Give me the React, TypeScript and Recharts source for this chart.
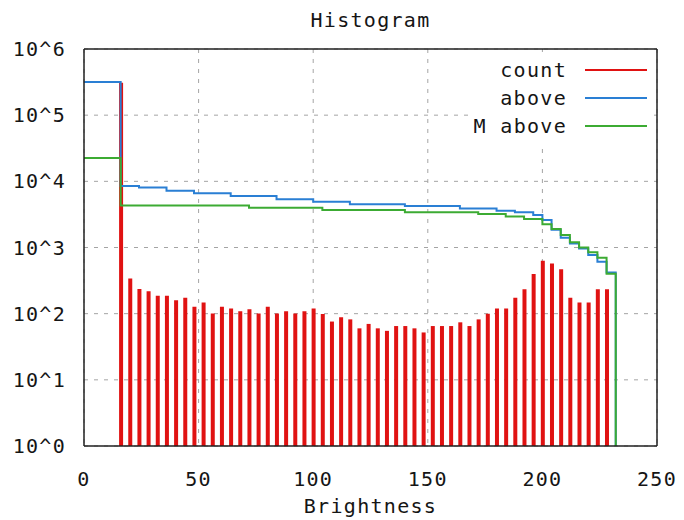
import { Bar, CartesianGrid, ComposedChart, Line, XAxis, YAxis } from "recharts";

// brightness bins (left edge of each 4-wide bin) and pixel counts
const bins = [
  16, 20, 24, 28, 32, 36, 40, 44, 48, 52, 56, 60, 64, 68, 72, 76, 80, 84,
  88, 92, 96, 100, 104, 108, 112, 116, 120, 124, 128, 132, 136, 140, 144, 148,
  152, 156, 160, 164, 168, 172, 176, 180, 184, 188, 192, 196, 200, 204, 208,
  212, 216, 220, 224, 228,
];
const counts = [
  310000, 340, 236, 219, 186, 186, 160, 174, 127, 148, 101, 127, 120, 109, 117,
  101, 127, 101, 109, 101, 109, 120, 99, 76, 88, 82, 60, 70, 60, 55, 65, 65,
  60, 52, 65, 65, 65, 74, 65, 82, 100, 120, 120, 174, 233, 396, 630, 575, 468,
  174, 148, 148, 233, 233,
];

// "above" step curve
const aboveX = [
  0, 16, 24, 36, 48, 64, 84, 100, 116, 140, 164, 180, 188, 196, 200, 204, 208,
  212, 216, 220, 224, 228, 232,
];
const aboveY = [
  316000, 8500, 8100, 7200, 6600, 6000, 5350, 4900, 4500, 4250, 3900, 3600,
  3400, 3100, 2600, 1850, 1400, 1150, 970, 770, 610, 420, 1,
];

// "M above" step curve
const mAboveX = [
  0, 16, 72, 104, 140, 172, 184, 192, 200, 204, 208, 212, 216, 220, 224, 228,
  232,
];
const mAboveY = [
  22600, 4300, 4000, 3700, 3400, 3200, 2950, 2700, 2250, 1900, 1550, 1200,
  1000, 850, 700, 400, 1,
];

const xTicks = [0, 50, 100, 150, 200, 250];
const yTicks = [1, 10, 100, 1000, 10000, 100000, 1000000];
const yMinorTicks = yTicks
  .slice(0, -1)
  .flatMap((d) => [2, 3, 4, 5, 6, 7, 8, 9].map((m) => m * d));

const series = [
  { name: "count", color: "#e01212" },
  { name: "above", color: "#2a7fd4" },
  { name: "M above", color: "#3cab33" },
];

const MONO = "'DejaVu Sans Mono', monospace";
const INK = "#151515";
const FRAME = "#202020";
// frame axes only draw ticks; a zero size makes recharts skip them
const THIN = 0.01;

const textTick = { fontSize: 20, fill: INK };

function KeyBox() {
  return (
    <div
      style={{
        position: "absolute",
        left: 470,
        top: 52,
        width: 184,
        height: 88,
        background: "#fff",
        paddingTop: 4,
      }}
    >
      {series.map((s) => (
        <div key={s.name} style={{ position: "relative", height: 28 }}>
          <span
            style={{
              position: "absolute",
              right: 184 - 97,
              top: 0,
              lineHeight: "28px",
              fontSize: 20,
              whiteSpace: "nowrap",
            }}
          >
            {s.name}
          </span>
          <span
            style={{
              position: "absolute",
              left: 115,
              top: 13,
              width: 62,
              height: 2,
              background: s.color,
            }}
          />
        </div>
      ))}
    </div>
  );
}

export default function App() {
  const data = bins.map((x, i) => ({ x, count: counts[i] }));
  const above = aboveX.map((x, i) => ({ x, v: aboveY[i] }));
  const mAbove = mAboveX.map((x, i) => ({ x, v: mAboveY[i] }));
  const fmt = (v: number) => `10^${Math.round(Math.log10(v))}`;

  const logY = {
    scale: "log" as const,
    domain: [1, 1000000],
    allowDataOverflow: true,
  };
  const linX = {
    type: "number" as const,
    domain: [0, 250],
    ticks: xTicks,
    allowDataOverflow: true,
  };

  return (
    <div
      style={{
        position: "absolute",
        left: 0,
        top: 0,
        width: 684,
        height: 520,
        background: "#fff",
        fontFamily: MONO,
        letterSpacing: "1.3px",
        color: INK,
      }}
    >
      <div
        style={{
          position: "absolute",
          left: 84,
          width: 573,
          top: 6,
          textAlign: "center",
          fontSize: 20,
          lineHeight: "28px",
        }}
      >
        Histogram
      </div>
      <ComposedChart
        width={684}
        height={520}
        data={data}
        margin={{ top: 49, right: 27, bottom: 0, left: 0 }}
      >
        <CartesianGrid
          xAxisId="x"
          yAxisId="y"
          stroke="#a4a4a4"
          strokeDasharray="4 6"
        />
        <XAxis
          xAxisId="x"
          dataKey="x"
          {...linX}
          height={74}
          tickSize={0}
          tickMargin={26}
          axisLine={false}
          tickLine={false}
          tick={textTick}
          label={{
            value: "Brightness",
            position: "insideBottom",
            offset: 7,
            fontSize: 20,
            fill: INK,
          }}
        />
        <XAxis
          xAxisId="xb"
          {...linX}
          mirror
          height={THIN}
          tickSize={8}
          tick={false}
          stroke={FRAME}
          strokeWidth={1.5}
        />
        <XAxis
          xAxisId="xt"
          orientation="top"
          {...linX}
          mirror
          height={THIN}
          tickSize={8}
          tick={false}
          stroke={FRAME}
          strokeWidth={1.5}
        />
        <YAxis
          yAxisId="y"
          {...logY}
          ticks={yTicks}
          width={84}
          tickSize={0}
          tickMargin={18}
          axisLine={false}
          tickLine={false}
          tick={textTick}
          tickFormatter={fmt}
        />
        <YAxis
          yAxisId="yl"
          {...logY}
          ticks={yTicks}
          mirror
          width={THIN}
          tickSize={8}
          tick={false}
          stroke={FRAME}
          strokeWidth={1.5}
        />
        <YAxis
          yAxisId="ylm"
          {...logY}
          ticks={yMinorTicks}
          mirror
          width={THIN}
          tickSize={4}
          tick={false}
          axisLine={false}
          stroke={FRAME}
        />
        <YAxis
          yAxisId="yr"
          orientation="right"
          {...logY}
          ticks={yTicks}
          mirror
          width={THIN}
          tickSize={8}
          tick={false}
          stroke={FRAME}
          strokeWidth={1.5}
        />
        <YAxis
          yAxisId="yrm"
          orientation="right"
          {...logY}
          ticks={yMinorTicks}
          mirror
          width={THIN}
          tickSize={4}
          tick={false}
          axisLine={false}
          stroke={FRAME}
        />
        <Bar
          xAxisId="x"
          yAxisId="y"
          dataKey="count"
          name="count"
          fill={series[0].color}
          barSize={4}
          isAnimationActive={false}
        />
        <Line
          xAxisId="x"
          yAxisId="y"
          data={above}
          dataKey="v"
          name="above"
          type="stepAfter"
          stroke={series[1].color}
          strokeWidth={2}
          dot={false}
          isAnimationActive={false}
        />
        <Line
          xAxisId="x"
          yAxisId="y"
          data={mAbove}
          dataKey="v"
          name="M above"
          type="stepAfter"
          stroke={series[2].color}
          strokeWidth={2}
          dot={false}
          isAnimationActive={false}
        />
      </ComposedChart>
      <KeyBox />
    </div>
  );
}
